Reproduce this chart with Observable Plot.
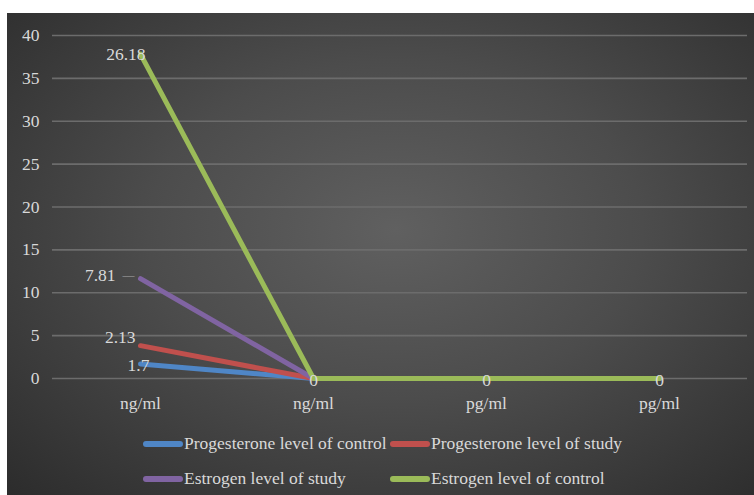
<!DOCTYPE html>
<html><head><meta charset="utf-8">
<script src="https://cdn.jsdelivr.net/npm/d3@7"></script>
<script src="https://cdn.jsdelivr.net/npm/@observablehq/plot@0.6"></script>
<style>
html,body{margin:0;padding:0;background:#fff;}
#chart{position:absolute;left:7px;top:13px;width:747px;height:482px;
background:radial-gradient(ellipse farthest-corner at 52% 45%, #606060 0%, #4c4c4c 45%, #2c2c2c 100%);
font-family:"Liberation Serif",serif;color:#d9d9d9;overflow:hidden;}
#plot{position:absolute;left:0;top:0;}
#legend{position:absolute;left:136px;top:413px;display:grid;grid-template-columns:247px 247px;grid-auto-rows:35px;}
.item{display:flex;align-items:center;font-size:17.5px;color:#d9d9d9;white-space:nowrap;}
.sw{width:40px;height:6px;border-radius:3px;margin-right:1px;}
</style>
</head><body>
<div id="chart"><div id="plot"></div><div id="legend"></div></div>
<script>
const units = ["ng/ml", "ng/ml", "pg/ml", "pg/ml"];
const categories = [0, 1, 2, 3];
const seriesNames = ["Progesterone level of control", "Progesterone level of study", "Estrogen level of study", "Estrogen level of control"];
const seriesColors = ["#4F86C6", "#C0504D", "#8064A2", "#9BBB59"];
const progesteroneControl = [1.7, 0, 0, 0];
const progesteroneStudy = [2.13, 0, 0, 0];
const estrogenStudy = [7.81, 0, 0, 0];
const estrogenControl = [26.18, 0, 0, 0];
const yTicks = [0, 5, 10, 15, 20, 25, 30, 35, 40];

const seriesValues = [progesteroneControl, progesteroneStudy, estrogenStudy, estrogenControl];
const data = [];
seriesNames.forEach((s, si) => categories.forEach((c, ci) => data.push({series: s, cat: c, value: seriesValues[si][ci]})));

const FS = 17.5;
const labelMark = (series, opts) => Plot.text(data, Plot.stackY2({
  x: "cat", y: "value", z: "series",
  text: d => (d.series === series && d.cat === 0) ? String(d.value) : "",
  fill: "#d9d9d9", fontSize: FS, ...opts
}));

const plot = Plot.plot({
  width: 747, height: 410,
  marginLeft: 45, marginRight: 7, marginTop: 22, marginBottom: 45,
  style: {background: "transparent", fontFamily: "Liberation Serif, serif", fontSize: FS + "px", color: "#d9d9d9"},
  x: {type: "point", domain: categories, padding: 0.5, tickFormat: i => units[i], tickSize: 0, tickPadding: 18, label: null},
  y: {domain: [0, 40], ticks: yTicks, tickSize: 0, tickPadding: 13, label: null},
  color: {domain: seriesNames, range: seriesColors},
  marks: [
    Plot.ruleY(yTicks, {stroke: "#6c6c6c", strokeWidth: 1.6}),
    Plot.lineY(data, Plot.stackY2({x: "cat", y: "value", z: "series", stroke: "series", strokeWidth: 5, strokeLinecap: "round", strokeLinejoin: "round"})),
    labelMark(seriesNames[3], {textAnchor: "end", dx: 5, dy: 0}),
    labelMark(seriesNames[2], {textAnchor: "end", dx: -25, dy: -3}),
    Plot.text(data, Plot.stackY2({x: "cat", y: "value", z: "series",
      text: d => (d.series === seriesNames[2] && d.cat === 0) ? "—" : "",
      fill: "#a6a6a6", fontSize: 12, textAnchor: "start", dx: -18, dy: -4})),
    labelMark(seriesNames[1], {textAnchor: "end", dx: -5, dy: -8}),
    labelMark(seriesNames[0], {textAnchor: "middle", dx: -2, dy: 1}),
    Plot.text(data, Plot.stackY2({x: "cat", y: "value", z: "series",
      text: d => (d.series === seriesNames[3] && d.cat > 0) ? String(d.value) : "",
      fill: "#d9d9d9", fontSize: FS, textAnchor: "middle", dy: 2}))
  ]
});
document.getElementById("plot").appendChild(plot);

const legend = document.getElementById("legend");
[0, 1, 2, 3].forEach(i => {
  const it = document.createElement("div");
  it.className = "item";
  it.innerHTML = `<span class="sw" style="background:${seriesColors[i]}"></span><span>${seriesNames[i]}</span>`;
  legend.appendChild(it);
});
</script>
</body></html>
